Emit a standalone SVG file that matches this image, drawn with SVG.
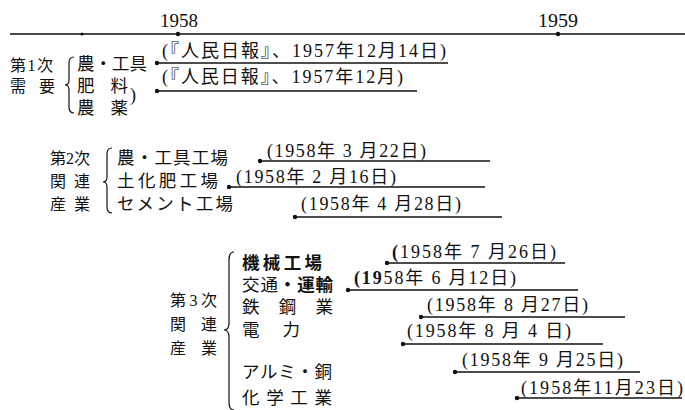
<svg xmlns="http://www.w3.org/2000/svg" width="685" height="410" viewBox="0 0 685 410">
<defs>
<style>
.t{font-family:"Liberation Serif","Noto Sans CJK JP",serif;fill:#111;}
.lab{font-size:16px;}
.item{font-size:17.5px;}
.date{font-size:18px;}
.yr{font-size:18px;}
.b{font-weight:bold;}
.ln{stroke:#111;stroke-width:1.4;fill:none;}
.br{stroke:#111;stroke-width:1.2;fill:none;}
.dot{fill:#111;}
</style>
</defs>
<rect width="685" height="410" fill="#fff"/>

<g id="axis">
<line class="ln" x1="10" y1="34" x2="685" y2="34"/>
<circle class="dot" cx="82" cy="34" r="1.6"/>
<circle class="dot" cx="178" cy="34" r="2.2"/>
<circle class="dot" cx="558" cy="34" r="2.2"/>
<text class="t yr" x="179" y="27" text-anchor="middle" textLength="38" lengthAdjust="spacingAndGlyphs">1958</text>
<text class="t yr" x="558" y="27" text-anchor="middle" textLength="40" lengthAdjust="spacingAndGlyphs">1959</text>
</g>

<g id="demand1">
<text class="t lab" x="10" y="71" textLength="43" lengthAdjust="spacing">第1次</text>
<text class="t lab" x="10" y="92" textLength="45" lengthAdjust="spacing">需　要</text>
<path class="br" d="M74,57 Q69,57 69,63 L69,80 Q69,85 65,85 Q69,85 69,90 L69,107 Q69,113 74,113"/>
<text class="t item" x="77" y="70" textLength="70" lengthAdjust="spacing">農・工具</text>
<text class="t item" x="77" y="92" textLength="51" lengthAdjust="spacing">肥　料</text>
<text class="t item" x="77" y="114" textLength="51" lengthAdjust="spacing">農　薬</text>
<text class="t" x="130" y="101" font-size="18">)</text>
</g>

<g id="industry2">
<text class="t lab" x="50" y="164" textLength="40" lengthAdjust="spacing">第2次</text>
<text class="t lab" x="50" y="187" textLength="40" lengthAdjust="spacing">関　連</text>
<text class="t lab" x="50" y="210" textLength="40" lengthAdjust="spacing">産　業</text>
<path class="br" d="M112,148 Q107,148 107,154 L107,177 Q107,182 103,182 Q107,182 107,187 L107,207 Q107,213 112,213"/>
<text class="t item" x="117" y="164" textLength="111" lengthAdjust="spacing">農・工具工場</text>
<text class="t item" x="117" y="187" textLength="101" lengthAdjust="spacing">土化肥工場</text>
<text class="t item" x="117" y="210" textLength="116" lengthAdjust="spacing">セメント工場</text>
</g>

<g id="industry3">
<text class="t lab" x="170" y="306" textLength="47" lengthAdjust="spacing">第3次</text>
<text class="t lab" x="170" y="330" textLength="47" lengthAdjust="spacing">関　連</text>
<text class="t lab" x="170" y="354" textLength="47" lengthAdjust="spacing">産　業</text>
<path class="br" d="M234,252 Q229,252 229,260 L229,323 Q229,330 224,330 Q229,330 229,337 L229,402 Q229,410 234,410"/>
<text class="t item b" x="242" y="269" textLength="80" lengthAdjust="spacing">機械工場</text>
<text class="t item" x="242" y="291" textLength="91" lengthAdjust="spacing">交通<tspan class="b">・運輸</tspan></text>
<text class="t item" x="242" y="313" textLength="91" lengthAdjust="spacing">鉄　鋼　業</text>
<text class="t item" x="242" y="336" textLength="58" lengthAdjust="spacing">電　力</text>
<text class="t item" x="242" y="378" textLength="90" lengthAdjust="spacing">アルミ・銅</text>
<text class="t item" x="242" y="404" textLength="90" lengthAdjust="spacing">化学工業</text>
</g>

<g id="connectors">
<line class="ln" x1="157" y1="63" x2="448" y2="63"/><circle class="dot" cx="157" cy="63" r="2.2"/>
<line class="ln" x1="157" y1="91" x2="417" y2="91"/><circle class="dot" cx="157" cy="91" r="2.2"/>
<line class="ln" x1="260" y1="161" x2="490" y2="161"/><circle class="dot" cx="260" cy="161" r="2.2"/>
<line class="ln" x1="229" y1="187" x2="485" y2="187"/><circle class="dot" cx="229" cy="187" r="2.2"/>
<line class="ln" x1="295" y1="217" x2="502" y2="217"/><circle class="dot" cx="295" cy="217" r="2.2"/>
<line class="ln" x1="387" y1="263" x2="565" y2="263"/><circle class="dot" cx="387" cy="263" r="2.2"/>
<line class="ln" x1="348" y1="290" x2="578" y2="290"/><circle class="dot" cx="348" cy="290" r="2.2"/>
<line class="ln" x1="421" y1="317" x2="625" y2="317"/><circle class="dot" cx="421" cy="317" r="2.2"/>
<line class="ln" x1="403" y1="344" x2="603" y2="344"/><circle class="dot" cx="403" cy="344" r="2.2"/>
<line class="ln" x1="455" y1="372" x2="640" y2="372"/><circle class="dot" cx="455" cy="372" r="2.2"/>
<line class="ln" x1="517" y1="398" x2="682" y2="398"/><circle class="dot" cx="517" cy="398" r="2.2"/>
</g>

<g id="dates">
<text class="t date" x="162" y="57" textLength="284" lengthAdjust="spacing">(『人民日報』、1957年12月14日)</text>
<text class="t date" x="162" y="83" textLength="241" lengthAdjust="spacing">(『人民日報』、1957年12月)</text>
<text class="t date" x="267" y="157" textLength="159" lengthAdjust="spacing">(1958年 3 月22日)</text>
<text class="t date" x="236" y="183" textLength="160" lengthAdjust="spacing">(1958年 2 月16日)</text>
<text class="t date" x="301" y="210" textLength="160" lengthAdjust="spacing">(1958年 4 月28日)</text>
<text class="t date" x="392" y="258" textLength="164" lengthAdjust="spacing"><tspan class="b">(</tspan>1958年 7 月26日)</text>
<text class="t date" x="354" y="284" textLength="162" lengthAdjust="spacing"><tspan class="b">(19</tspan>58年 6 月12日)</text>
<text class="t date" x="427" y="311" textLength="161" lengthAdjust="spacing">(1958年 8 月27日)</text>
<text class="t date" x="407" y="337" textLength="164" lengthAdjust="spacing">(1958年 8 月 4 日)</text>
<text class="t date" x="462" y="366" textLength="161" lengthAdjust="spacing">(1958年 9 月25日)</text>
<text class="t date" x="521" y="394" textLength="162" lengthAdjust="spacing">(1958年11月23日)</text>
</g>
</svg>
